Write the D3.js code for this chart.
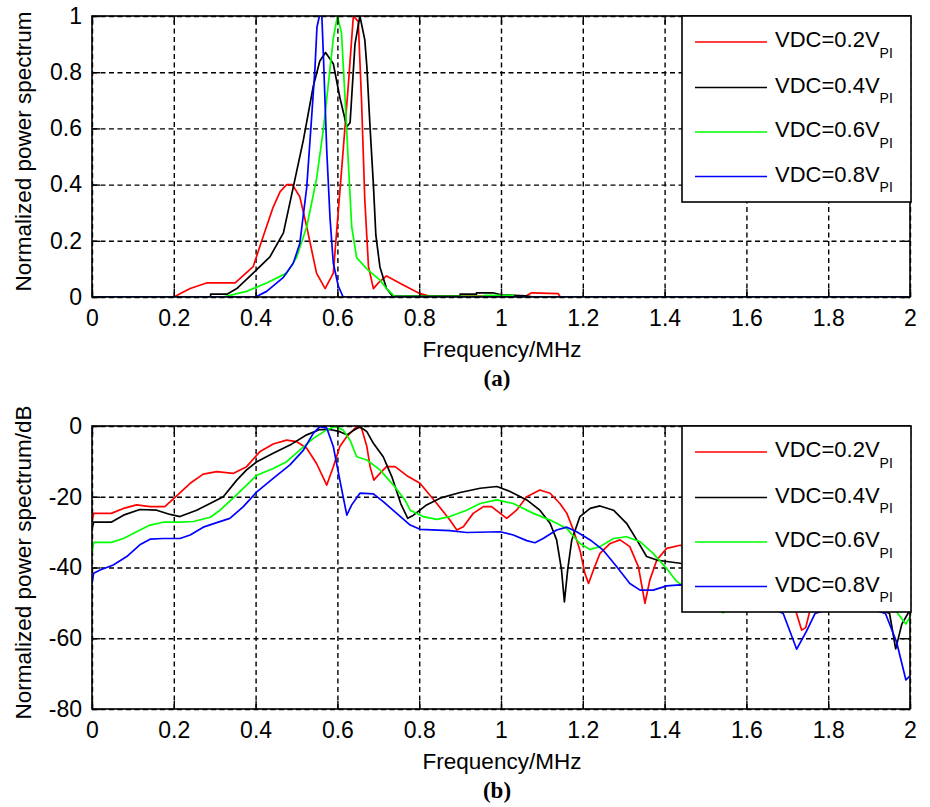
<!DOCTYPE html>
<html>
<head>
<meta charset="utf-8">
<script src="https://cdn.jsdelivr.net/npm/d3@7"></script>
<style>
  body { margin: 0; background: #fff; }
  svg text { font-family: "Liberation Sans", Arial, sans-serif; }
</style>
</head>
<body>
<div id="chart"></div>
<script>
// series labels / colours
const seriesNames = ["0.2", "0.4", "0.6", "0.8"];
const seriesColors = ["#ff0000", "#000000", "#00ff00", "#0000ff"];

// x ticks shared by both panels (MHz)
const freqTicks = [0, 0.2, 0.4, 0.6, 0.8, 1, 1.2, 1.4, 1.6, 1.8, 2];
const linTicks = [0, 0.2, 0.4, 0.6, 0.8, 1];
const dbTicks = [0, -20, -40, -60, -80];

// (a) normalized power spectrum, [freq MHz, value]
const linVdc02 = [[0,0],[0.2,0],[0.24,0.03],[0.28,0.05],[0.35,0.05],[0.394,0.108],[0.415,0.2],[0.443,0.32],[0.46,0.375],[0.476,0.4],[0.49,0.4],[0.508,0.357],[0.525,0.25],[0.549,0.085],[0.57,0.03],[0.59,0.085],[0.598,0.23],[0.614,0.52],[0.627,0.76],[0.639,1.0],[0.651,0.98],[0.659,0.7],[0.667,0.345],[0.676,0.108],[0.688,0.03],[0.7,0.05],[0.72,0.075],[0.761,0.043],[0.8,0.013],[0.825,0.003],[1.06,0.003],[1.075,0.015],[1.14,0.012],[1.145,0],[2,0]];
const linVdc04 = [[0,0],[0.29,0],[0.29,0.01],[0.33,0.01],[0.354,0.03],[0.394,0.085],[0.435,0.143],[0.468,0.228],[0.492,0.39],[0.517,0.56],[0.541,0.75],[0.557,0.84],[0.571,0.87],[0.59,0.83],[0.606,0.71],[0.623,0.606],[0.631,0.62],[0.643,0.9],[0.655,1.0],[0.667,0.915],[0.672,0.82],[0.68,0.6],[0.688,0.4],[0.694,0.22],[0.704,0.107],[0.72,0.03],[0.735,0.003],[0.9,0.003],[0.9,0.01],[0.94,0.01],[0.94,0.015],[0.98,0.015],[1.0,0.008],[1.06,0.004],[1.08,0],[2,0]];
const linVdc06 = [[0,0],[0.32,0],[0.378,0.02],[0.427,0.05],[0.476,0.085],[0.5,0.14],[0.525,0.25],[0.549,0.42],[0.566,0.6],[0.578,0.76],[0.59,0.92],[0.6,1.0],[0.61,0.94],[0.619,0.7],[0.627,0.47],[0.635,0.25],[0.647,0.14],[0.672,0.1],[0.704,0.06],[0.72,0.03],[0.74,0.002],[0.96,0.002],[0.96,0.006],[1.03,0.006],[1.03,0],[2,0]];
const linVdc08 = [[0,0],[0.4,0],[0.427,0.02],[0.468,0.07],[0.492,0.12],[0.508,0.19],[0.525,0.39],[0.537,0.64],[0.545,0.81],[0.55,0.96],[0.556,1.0],[0.562,1.0],[0.566,0.85],[0.574,0.52],[0.582,0.28],[0.59,0.12],[0.602,0.04],[0.614,0],[2,0]];

// (b) normalized power spectrum in dB, [freq MHz, dB]
const dbVdc02 = [[0,-27],[0.004,-24.7],[0.047,-24.7],[0.077,-23.3],[0.109,-22.3],[0.142,-22.8],[0.178,-22.8],[0.203,-20.2],[0.24,-16.2],[0.272,-13.6],[0.305,-12.9],[0.345,-13.4],[0.378,-11.5],[0.41,-7.3],[0.443,-5.1],[0.476,-4.0],[0.5,-4.4],[0.525,-6.3],[0.549,-10.6],[0.574,-16.7],[0.59,-11.5],[0.606,-5.8],[0.623,-3.0],[0.647,-0.2],[0.659,-0.6],[0.672,-5.8],[0.68,-11.5],[0.689,-15.3],[0.7,-13.9],[0.72,-11.5],[0.741,-11.5],[0.773,-14.3],[0.802,-16.2],[0.843,-21.9],[0.875,-26.6],[0.892,-29.4],[0.908,-28.5],[0.932,-24.7],[0.957,-22.8],[0.977,-22.8],[0.998,-24.7],[1.014,-26.1],[1.038,-23.8],[1.063,-20.0],[1.095,-18.1],[1.12,-19.0],[1.144,-21.9],[1.161,-24.7],[1.177,-29.4],[1.193,-35.1],[1.205,-41.6],[1.214,-44.5],[1.226,-40.7],[1.242,-36.0],[1.267,-33.2],[1.291,-32.2],[1.315,-34.1],[1.336,-39.8],[1.352,-50.1],[1.364,-43.5],[1.381,-37.9],[1.405,-34.6],[1.438,-33.7],[1.5,-36],[1.6,-42],[1.68,-46],[1.72,-52],[1.735,-57.7],[1.745,-57],[1.76,-50],[1.85,-42],[1.95,-46],[2.0,-50]];
const dbVdc04 = [[0,-29],[0.004,-27.2],[0.047,-27.2],[0.077,-25.2],[0.117,-23.6],[0.158,-23.8],[0.191,-25.0],[0.215,-25.6],[0.256,-23.8],[0.297,-21.4],[0.321,-20.0],[0.354,-15.3],[0.378,-12.4],[0.403,-10.1],[0.443,-7.7],[0.484,-5.4],[0.525,-2.5],[0.557,-1.0],[0.582,-1.0],[0.606,-1.6],[0.623,-2.5],[0.639,-1.3],[0.655,-0.2],[0.672,-1.6],[0.688,-4.9],[0.712,-8.7],[0.733,-14.3],[0.755,-22],[0.772,-26.1],[0.786,-25.2],[0.818,-22.3],[0.851,-20.4],[0.9,-18.8],[0.949,-17.6],[0.99,-17.1],[1.022,-18.5],[1.063,-20.9],[1.095,-23.8],[1.12,-27.5],[1.136,-32.2],[1.148,-40.7],[1.155,-49.7],[1.163,-40.7],[1.173,-32.2],[1.193,-25.6],[1.218,-23.3],[1.242,-22.6],[1.275,-23.8],[1.307,-27.5],[1.332,-32.2],[1.356,-36.9],[1.381,-37.9],[1.405,-38.3],[1.438,-38.8],[1.55,-42],[1.7,-46],[1.85,-48],[1.95,-53],[1.965,-63],[1.98,-56],[2.0,-52]];
const dbVdc06 = [[0,-36],[0.004,-32.9],[0.047,-32.9],[0.077,-31.8],[0.109,-29.9],[0.142,-28.0],[0.174,-27.2],[0.215,-27.2],[0.248,-27.0],[0.289,-25.8],[0.313,-23.8],[0.345,-20.4],[0.378,-16.7],[0.403,-13.9],[0.443,-12.0],[0.476,-10.1],[0.508,-6.8],[0.541,-3.5],[0.574,-1.1],[0.594,-0.2],[0.614,-1.1],[0.631,-4.0],[0.647,-8.7],[0.672,-9.6],[0.704,-12.4],[0.737,-16.7],[0.765,-20.9],[0.778,-23.8],[0.81,-25.6],[0.843,-26.4],[0.875,-25.6],[0.916,-23.8],[0.949,-21.9],[0.99,-20.9],[1.03,-21.9],[1.079,-24.7],[1.12,-26.6],[1.161,-29.0],[1.193,-33.2],[1.218,-34.9],[1.242,-34.1],[1.275,-31.8],[1.307,-31.3],[1.34,-32.7],[1.372,-36.0],[1.405,-40.3],[1.43,-44.0],[1.5,-49],[1.543,-52.8],[1.58,-50],[1.7,-45],[1.85,-46],[1.95,-50],[1.99,-56],[2.0,-54]];
const dbVdc08 = [[0,-44.5],[0.004,-41.6],[0.02,-40.7],[0.052,-39.3],[0.085,-36.9],[0.117,-33.6],[0.142,-32.0],[0.174,-31.8],[0.215,-31.8],[0.24,-30.8],[0.272,-28.6],[0.305,-27.3],[0.337,-26.1],[0.37,-22.8],[0.403,-18.6],[0.443,-14.8],[0.484,-11.0],[0.517,-6.8],[0.541,-2.1],[0.557,-0.2],[0.574,-0.6],[0.59,-5.8],[0.606,-15.3],[0.623,-25.2],[0.635,-22.3],[0.655,-19.0],[0.688,-19.2],[0.712,-21.4],[0.745,-24.7],[0.778,-28.0],[0.802,-29.2],[0.875,-29.6],[0.916,-30.1],[0.998,-29.9],[1.03,-30.8],[1.063,-32.4],[1.083,-33.0],[1.103,-31.8],[1.136,-29.4],[1.161,-28.6],[1.185,-29.9],[1.218,-32.2],[1.25,-35.1],[1.283,-39.8],[1.315,-44.5],[1.34,-46.4],[1.372,-46.4],[1.405,-45.2],[1.438,-44.9],[1.6,-48],[1.69,-53],[1.723,-63.1],[1.747,-58],[1.768,-53],[1.85,-50],[1.94,-53],[1.967,-61],[1.99,-71.8],[2.0,-70.6]];

const W = 930, H = 807;
const svg = d3.select("#chart").append("svg")
    .attr("width", W).attr("height", H)
    .style("background", "#fff");

const fmt = d => String(+(+d).toFixed(1));

function panel(opt){
    // plot box
    let left = 92, right = 910, top = opt.top, bottom = opt.bottom;
    let w = right - left, h = bottom - top;
    let x = d3.scaleLinear().domain([0, 2]).range([0, w]);
    let y = d3.scaleLinear().domain(opt.domain).range([h, 0]);

    let g = svg.append("g").attr("transform", "translate(" + left + "," + top + ")");

    g.append("clipPath").attr("id", opt.id + "clip")
      .append("rect").attr("width", w).attr("height", h);

    // dashed grid
    let gx = g.append("g").attr("transform", "translate(0," + h + ")")
      .call(d3.axisBottom(x).tickValues(freqTicks).tickSize(-h).tickFormat(""));
    let gy = g.append("g")
      .call(d3.axisLeft(y).tickValues(opt.ticks).tickSize(-w).tickFormat(""));
    [gx, gy].forEach(a => {
        a.select(".domain").remove();
        a.selectAll("line").attr("stroke", "#000").attr("stroke-width", 1.4)
          .attr("stroke-dasharray", "5,3.5");
    });

    // curves
    let line = d3.line().x(d => x(d[0])).y(d => y(d[1]));
    let lines = g.append("g").attr("clip-path", "url(#" + opt.id + "clip)");
    opt.series.forEach((s, i) => {
        lines.append("path").datum(s)
          .attr("fill", "none")
          .attr("stroke", seriesColors[i])
          .attr("stroke-width", 1.7)
          .attr("stroke-linejoin", "round")
          .attr("d", line);
    });

    // axes with inward ticks
    let ax = g.append("g").attr("transform", "translate(0," + h + ")")
      .call(d3.axisBottom(x).tickValues(freqTicks).tickSizeInner(-8).tickSizeOuter(0)
        .tickPadding(12.5).tickFormat(fmt));
    let axTop = g.append("g")
      .call(d3.axisTop(x).tickValues(freqTicks).tickSizeInner(-8).tickSizeOuter(0).tickFormat(""));
    let ay = g.append("g")
      .call(d3.axisLeft(y).tickValues(opt.ticks).tickSizeInner(-8).tickSizeOuter(0)
        .tickPadding(10).tickFormat(opt.tickFmt));
    let ayRight = g.append("g").attr("transform", "translate(" + w + ",0)")
      .call(d3.axisRight(y).tickValues(opt.ticks).tickSizeInner(-8).tickSizeOuter(0).tickFormat(""));
    [ax, axTop, ay, ayRight].forEach(a => {
        a.select(".domain").remove();
        a.selectAll("line").attr("stroke", "#000").attr("stroke-width", 1.4);
        a.selectAll("text").attr("fill", "#000").style("font-size", "23px")
          .style("font-family", "'Liberation Sans', Arial, sans-serif");
    });

    // box
    g.append("rect").attr("width", w).attr("height", h)
      .attr("fill", "none").attr("stroke", "#000").attr("stroke-width", 1.6);

    // axis titles
    g.append("text")
      .attr("x", w / 2 + 1).attr("y", h + 60)
      .attr("text-anchor", "middle")
      .style("font-size", "22.5px")
      .text("Frequency/MHz");
    g.append("text")
      .attr("transform", "translate(" + (-left + 31) + "," + (h / 2 - 5) + ") rotate(-90)")
      .attr("text-anchor", "middle")
      .style("font-size", "22.5px")
      .text(opt.ylabel);
    g.append("text")
      .attr("x", w / 2 - 4).attr("y", h + 89)
      .attr("text-anchor", "middle")
      .style("font-family", "'Liberation Serif', 'Times New Roman', serif")
      .style("font-weight", "bold")
      .style("font-size", "23px")
      .text(opt.caption);

    // legend
    let lg = svg.append("g").attr("transform", "translate(682," + top + ")");
    lg.append("rect").attr("width", 229).attr("height", 186)
      .attr("fill", "#fff").attr("stroke", "#000").attr("stroke-width", 1.6);
    let rowY = [26, 71.5, 116, 160.5];
    seriesNames.forEach((n, i) => {
        lg.append("line")
          .attr("x1", 13).attr("x2", 85)
          .attr("y1", rowY[i]).attr("y2", rowY[i])
          .attr("stroke", seriesColors[i]).attr("stroke-width", 1.7);
        let t = lg.append("text").attr("x", 93).attr("y", rowY[i] + 5)
          .style("font-size", "22px").attr("fill", "#000");
        t.append("tspan").text("VDC=" + n + "V");
        t.append("tspan").attr("dy", 10.5).style("font-size", "14px").text("PI");
    });
}

panel({
    id: "a", top: 16, bottom: 297, domain: [0, 1], ticks: linTicks, tickFmt: fmt,
    series: [linVdc02, linVdc04, linVdc06, linVdc08],
    ylabel: "Normalized power spectrum", caption: "(a)"
});
panel({
    id: "b", top: 426, bottom: 709, domain: [-80, 0], ticks: dbTicks, tickFmt: d => String(d),
    series: [dbVdc02, dbVdc04, dbVdc06, dbVdc08],
    ylabel: "Normalized power spectrum/dB", caption: "(b)"
});
</script>
</body>
</html>
